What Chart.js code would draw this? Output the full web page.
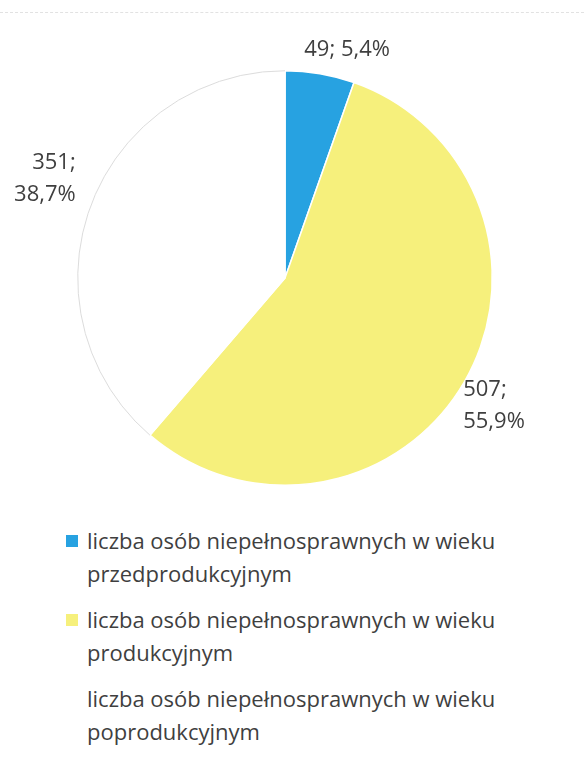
<!DOCTYPE html>
<html>
<head>
<meta charset="utf-8">
<script src="https://cdn.jsdelivr.net/npm/chart.js@4"></script>
<style>
  html, body { margin: 0; padding: 0; background: #fff; }
  body { width: 584px; height: 759px; position: relative; overflow: hidden; font-family: "Open Sans", sans-serif; }
  .scanline { position: absolute; left: 0; right: 0; top: 12px; border-top: 1px dashed #e2e2e2; }
  #wrap { position: absolute; left: 0; top: 0; width: 584px; height: 505px; }
  #legend { position: absolute; left: 66px; top: 524px; list-style: none; margin: 0; padding: 0; }
  #legend li { position: relative; padding-left: 21px; width: 470px; font-size: 22px; line-height: 33px; color: #3f3f3f; margin-bottom: 13px; }
  #legend li span { position: absolute; left: 0; top: 11px; width: 12px; height: 12px; }
</style>
</head>
<body>
<div class="scanline"></div>
<div id="wrap"><canvas id="myChart"></canvas></div>
<ul id="legend"></ul>
<script>
// Dane do wykresu
const labels = [
    'liczba osób niepełnosprawnych w wieku przedprodukcyjnym',
    'liczba osób niepełnosprawnych w wieku produkcyjnym',
    'liczba osób niepełnosprawnych w wieku poprodukcyjnym'
];
const values = [49, 507, 351];
const percents = ['5,4%', '55,9%', '38,7%'];
const colors = ['#27a2e1', '#f6f07c', '#ffffff'];

// etykiety danych poza kołem (jak w Excelu)
const outsideLabels = {
    id: 'outsideLabels',
    afterDatasetsDraw(chart, args, opts) {
        const ctx = chart.ctx;
        const arcs = chart.getDatasetMeta(0).data;
        ctx.save();
        arcs.forEach((arc, i) => {
            // obrys białego wycinka
            if (colors[i] === '#ffffff') {
                ctx.beginPath();
                ctx.strokeStyle = '#dcdcdc';
                ctx.lineWidth = 1;
                ctx.arc(arc.x, arc.y, arc.outerRadius, arc.startAngle, arc.endAngle);
                ctx.stroke();
            }
            const mid = (arc.startAngle + arc.endAngle) / 2;
            const cos = Math.cos(mid), sin = Math.sin(mid);
            const nudge = opts.nudge[i] || [0, 0];
            ctx.fillStyle = '#3f3f3f';
            ctx.font = '22px "Open Sans", sans-serif';
            ctx.textBaseline = 'middle';
            if (Math.abs(cos) > 0.5) {
                const r = arc.outerRadius + 16;
                const x = arc.x + cos * r + nudge[0];
                const y = arc.y + sin * r + nudge[1];
                ctx.textAlign = cos > 0 ? 'left' : 'right';
                ctx.fillText(values[i] + ';', x, y - 16);
                ctx.fillText(percents[i], x, y + 16);
            } else {
                const r = arc.outerRadius + 30;
                ctx.textAlign = 'center';
                ctx.fillText(values[i] + '; ' + percents[i], arc.x + cos * r + nudge[0], arc.y + sin * r + nudge[1]);
            }
        });
        ctx.restore();
    }
};

const ctx = document.getElementById('myChart').getContext('2d');
const myChart = new Chart(ctx, {
    type: 'pie',
    data: {
        labels: labels,
        datasets: [{
            data: values,
            backgroundColor: colors,
            borderColor: '#ffffff',
            borderWidth: 1.5
        }]
    },
    options: {
        responsive: true,
        maintainAspectRatio: false,
        animation: false,
        layout: { padding: { top: 70, bottom: 19, left: 77, right: 91 } },
        plugins: {
            legend: { display: false },
            tooltip: { enabled: false },
            outsideLabels: { nudge: [[22, 6], [-15, 16], [0, -22]] }
        }
    },
    plugins: [outsideLabels]
});

// legenda HTML (zawijanie tekstu w dwie linie)
const legend = document.getElementById('legend');
labels.forEach((l, i) => {
    const li = document.createElement('li');
    const box = document.createElement('span');
    box.style.background = colors[i];
    li.appendChild(box);
    li.appendChild(document.createTextNode(l));
    legend.appendChild(li);
});
</script>
</body>
</html>
